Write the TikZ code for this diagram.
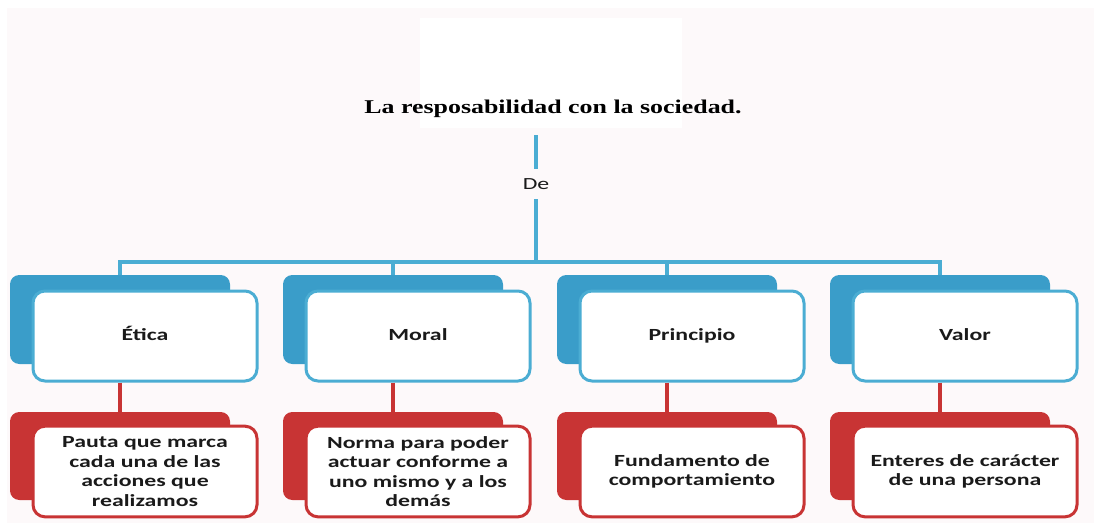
\documentclass[tikz,border=0pt]{standalone}
\usepackage{fontspec}
\newfontfamily\boxfont{Carlito}[FakeStretch=1.4]
\newfontfamily\titlefont{Liberation Serif}[FakeStretch=1.33]
\definecolor{bgpink}{HTML}{FDF9FA}
\definecolor{bblue}{HTML}{3A9DC9}
\definecolor{lblue}{HTML}{4BADD3}
\definecolor{rred}{HTML}{C83434}
\definecolor{txt}{HTML}{1A1A1A}
\begin{document}
\begin{tikzpicture}[x=0.75pt,y=-0.75pt,
  bback/.style={fill=bblue, rounded corners=7pt, minimum width=165pt, minimum height=66.75pt, inner sep=0pt},
  rback/.style={fill=rred, rounded corners=7pt, minimum width=165pt, minimum height=66pt, inner sep=0pt},
  front/.style={line width=2.25pt, fill=white, rounded corners=9pt, minimum width=168pt, inner sep=0pt, align=center, text=txt,
     font=\boxfont\bfseries\fontsize{12.75}{14.6}\selectfont},
  bfront/.style={front, draw=lblue, minimum height=67.5pt, text height=9pt, text depth=3pt},
  rfront/.style={front, draw=rred, minimum height=68pt},
  bconn/.style={draw=lblue, line width=2.5pt},
  rconn/.style={draw=rred, line width=2.5pt}]
\useasboundingbox (0,0) rectangle (1100,529);
\fill[white] (0,0) rectangle (1100,529);
\fill[bgpink] (7,8) rectangle (1094,523);

% top box and title
\node[fill=white, minimum width=197pt, minimum height=82.5pt, inner sep=0pt] (top) at (551,73) {};
\node[font=\titlefont\bfseries\fontsize{14.6}{17}\selectfont, text=black, inner sep=0pt] (title) at (553,109) {La resposabilidad con la sociedad.};
\node[font=\boxfont\fontsize{12.75}{15}\selectfont, text=txt, fill=bgpink, minimum height=22.5pt, inner sep=1pt] (de) at (536,184) {De};
\coordinate (hub) at (536,262);

% columns
\node[bback] (bb0) at (120,319.5) {};
\node[bback] (bb1) at (393,319.5) {};
\node[bback] (bb2) at (667,319.5) {};
\node[bback] (bb3) at (940,319.5) {};

\node[bfront] (fb0) at (145,336) {Ética};
\node[bfront] (fb1) at (418,336) {Moral};
\node[bfront] (fb2) at (692,336) {Principio};
\node[bfront] (fb3) at (965,336) {Valor};

\node[rback] (rb0) at (120,456) {};
\node[rback] (rb1) at (393,456) {};
\node[rback] (rb2) at (667,456) {};
\node[rback] (rb3) at (940,456) {};

\node[rfront] (rf0) at (145,471.5) {Pauta que marca\\cada una de las\\acciones que\\realizamos};
\node[rfront] (rf1) at (418,471.5) {Norma para poder\\actuar conforme a\\uno mismo y a los\\demás};
\node[rfront] (rf2) at (692,471.5) {Fundamento de\\comportamiento};
\node[rfront] (rf3) at (965,471.5) {Enteres de carácter\\de una persona};

% connectors
\draw[bconn, shorten <=5.25pt] (de.north |- top.south) -- (de.north);
\draw[bconn] (de.south) -- (hub);
\foreach \i in {0,1,2,3}{
  \draw[bconn] (hub) -| (bb\i.north);
  \draw[rconn] (rb\i.north |- fb\i.south) -- (rb\i.north);
}
\end{tikzpicture}
\end{document}
